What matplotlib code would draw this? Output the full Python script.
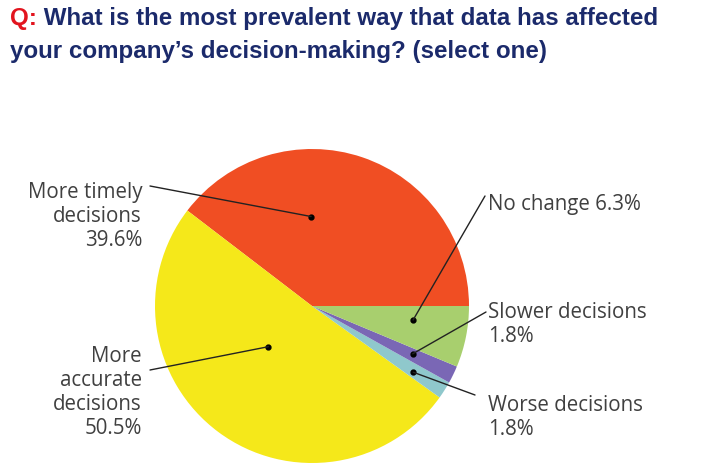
import numpy as np
import matplotlib
matplotlib.use("Agg")
import matplotlib.pyplot as plt

# Data
labels = ["More timely\ndecisions\n39.6%", "More\naccurate\ndecisions\n50.5%",
          "Worse decisions\n1.8%", "Slower decisions\n1.8%", "No change 6.3%"]
values = [39.6, 50.5, 1.8, 1.8, 6.3]
colors = ["#F04E23", "#F5E81A", "#8FC8CC", "#7A67B5", "#A8CF6E"]

W, H = 722, 469
fig = plt.figure(figsize=(W / 100, H / 100), dpi=100)
fig.patch.set_facecolor("white")

def fx(x):
    return x / W

def fy(y):
    return 1 - y / H

# Pie axes: center (312, 306), radius 157 px
cx, cy, r = 312, 306, 157
ax = fig.add_axes([fx(cx - r), fy(cy + r), 2 * r / W, 2 * r / H])
wedges, _ = ax.pie(values, colors=colors, startangle=0, counterclock=True,
                   radius=1, wedgeprops=dict(linewidth=0))
ax.set_xlim(-1, 1)
ax.set_ylim(-1, 1)
ax.set_aspect("equal")
ax.axis("off")

# Title
title_font = dict(family=["Liberation Sans Narrow", "Liberation Sans"],
                  fontweight="bold", fontsize=17.4)
q = fig.text(fx(10), fy(25), "Q:", color="#E2141E", va="baseline", **title_font)
fig.canvas.draw()
ax.annotate(" What is the most prevalent way that data has affected", xy=(1, 0),
            xycoords=q, va="bottom", ha="left", color="#1B2A6B", **title_font)
fig.text(fx(10), fy(58), "your company\u2019s decision-making? (select one)",
         color="#1B2A6B", va="baseline", **title_font)

# Labels: (dot angle deg, dot radius, text x, first baseline y, ha, line end x, line end y)
label_font = dict(family="Open Sans", fontsize=14.8, color="#404040", linespacing=1.18)
layout = [
    (90.6, 0.57, 142, 198, "right", 150, 186),
    (223.0, 0.38, 142, 362, "right", 150, 370),
    (-33.2, 0.77, 488, 411, "left", 475, 395),
    (-25.4, 0.71, 488, 318, "left", 486, 312),
    (-7.9, 0.65, 488, 210, "left", 485, 196),
]

for (ang, rr, tx, ty, ha, lx, ly), lab in zip(layout, labels):
    # offset so the first line's baseline lands on ty
    fig.text(fx(tx), fy(ty - 16), lab, ha=ha, va="top", multialignment=ha, **label_font)
    dx = rr * np.cos(np.radians(ang))
    dy = rr * np.sin(np.radians(ang))
    ax.plot([dx], [dy], "o", color="black", markersize=3.5, clip_on=False)
    ax.annotate("", xy=(dx, dy), xycoords="data",
                xytext=(fx(lx), fy(ly)), textcoords="figure fraction",
                arrowprops=dict(arrowstyle="-", color="#222222", lw=1.0,
                                shrinkA=0, shrinkB=0))

fig.savefig("out.png", dpi=100, facecolor="white")
